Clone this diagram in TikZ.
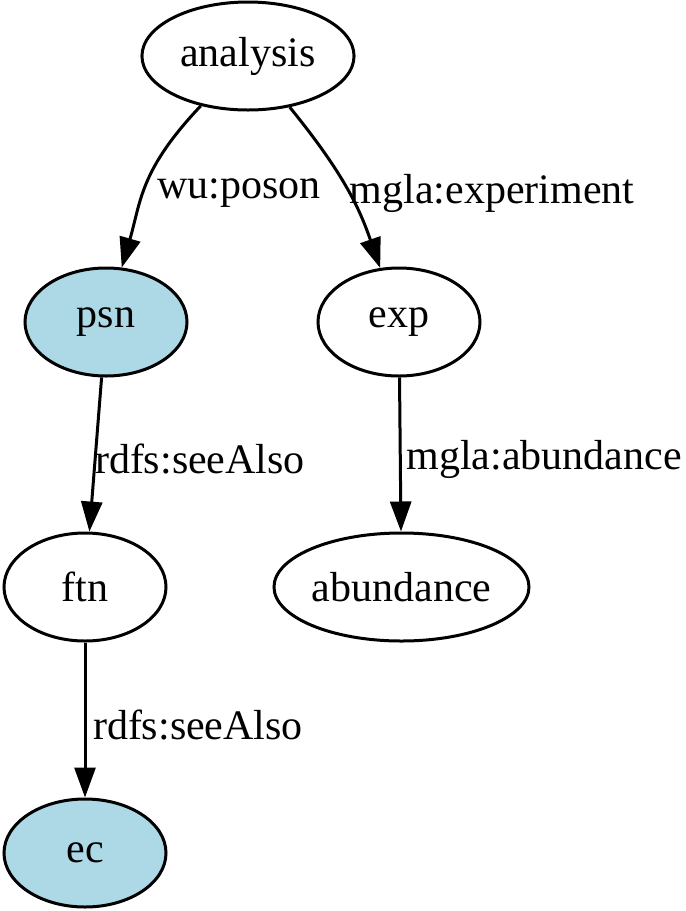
\documentclass[tikz,border=0pt]{standalone}
\usepackage{fontspec}
\setmainfont{Liberation Serif}
\usetikzlibrary{shapes.geometric,arrows.meta}
\definecolor{lblue}{HTML}{ADD8E6}
\begin{document}
\begin{tikzpicture}[x=0.33333pt,y=-0.33333pt,
  gnode/.style={ellipse,draw,line width=1pt,inner sep=0pt,minimum height=36pt,minimum width=54pt,font=\fontsize{14}{16}\selectfont},
  bluenode/.style={gnode,fill=lblue},
  elabel/.style={inner sep=0pt,font=\fontsize{14}{16}\selectfont},
  arr/.style={line width=1pt,-{Triangle[length=10pt,width=7pt]}}]
\useasboundingbox (0,0) rectangle (685,911);
\node[gnode,minimum width=70.7pt] (analysis) at (248,56) {analysis};
\node[bluenode] (psn) at (106,322) {psn};
\node[gnode] (exp) at (399,322) {exp};
\node[gnode] (ftn) at (85,587) {ftn};
\node[gnode,minimum width=85pt] (abundance) at (401.5,587) {abundance};
\node[bluenode] (ec) at (85,853) {ec};

\draw[arr] (analysis) .. controls (140,170) and (141,201) .. (psn);
\draw[arr] (analysis) .. controls (345,175) and (360,210) .. (exp);
\draw[arr] (psn) -- (ftn);
\draw[arr] (exp) -- (abundance);
\draw[arr] (ftn) -- (ec);

\node[elabel] (l1) at (239,193) {wu:poson};
\node[elabel] (l2) at (492,193) {mgla:experiment};
\node[elabel] (l3) at (200,459) {rdfs:seeAlso};
\node[elabel] (l4) at (544,459) {mgla:abundance};
\node[elabel] (l5) at (198,725) {rdfs:seeAlso};
\end{tikzpicture}
\end{document}
